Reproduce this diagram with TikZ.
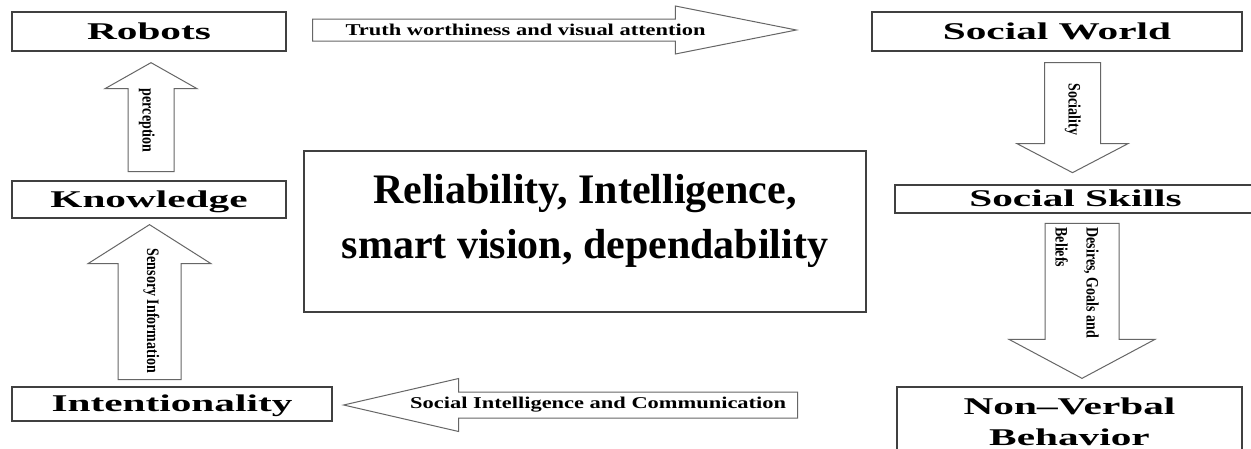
\documentclass[tikz,border=0pt]{standalone}
\usepackage{fontspec}
\setmainfont{Liberation Serif}
% wide bold face for the box titles, slightly less wide for the horizontal arrow captions
\newfontfamily\boxfont{Liberation Serif}[UprightFont={* Bold},FakeStretch=1.72]
\newfontfamily\arrowfont{Liberation Serif}[UprightFont={* Bold},FakeStretch=1.36]
% narrow face for the captions running down the vertical arrows
\newfontfamily\sidefont{Liberation Serif}[UprightFont={* Bold},FakeStretch=0.8]
\usetikzlibrary{calc}
\definecolor{boxline}{gray}{0.25}
\definecolor{arrowline}{gray}{0.40}

% block arrow from tail #1 to tip #2: shaft half width #3, head half width #4, head length #5
\newcommand\blockarrow[5]{%
  \path ($(#2)!#5!(#1)$) coordinate (#1-neck);
  \draw[blockarrowline]
    ($(#1)!#3!90:(#2)$) -- ($(#1-neck)!#3!90:(#2)$) -- ($(#1-neck)!#4!90:(#2)$)
    -- (#2)
    -- ($(#1-neck)!#4!-90:(#2)$) -- ($(#1-neck)!#3!-90:(#2)$) -- ($(#1)!#3!-90:(#2)$)
    -- cycle;
}

\begin{document}
\begin{tikzpicture}[x=1pt,y=-1pt,
  box/.style={draw=boxline,line width=1.3pt,inner sep=0pt,fill=white,
    font=\boxfont\fontsize{24pt}{28pt}\selectfont,text height=15.5pt,text depth=0pt},
  twolinebox/.style={draw=boxline,line width=1.3pt,inner sep=0pt,fill=white,align=center,
    font=\boxfont\fontsize{24pt}{31pt}\selectfont},
  blockarrowline/.style={draw=arrowline,line width=1pt,fill=white,line join=miter},
  hlabel/.style={font=\arrowfont\fontsize{16.5pt}{19pt}\selectfont,inner sep=0pt,
    text height=11pt,text depth=0pt},
  vlabel/.style={font=\sidefont\fontsize{17.5pt}{20pt}\selectfont,inner sep=0pt,rotate=-90},
]
\useasboundingbox (0,0) rectangle (1251,448);
\fill[white] (0,0) rectangle (1251,448);

% boxes
\node[box,minimum width=274pt,minimum height=39pt] (rob) at (149,31.5) {Robots};
\node[box,minimum width=370pt,minimum height=39pt] (sw) at (1057,31.5) {Social World};
\node[box,minimum width=361pt,minimum height=28pt] (ss) at (1075.5,199) {Social Skills\hspace{29pt}};
\node[twolinebox,minimum width=345pt,minimum height=69pt] (nv) at (1069.5,421.5) {Non–Verbal\\Behavior};
\node[box,minimum width=274pt,minimum height=37pt] (know) at (149,199.5) {Knowledge};
\node[box,minimum width=320pt,minimum height=34pt] (int) at (172,404) {Intentionality};

% central statement
\node[draw=boxline,line width=1.3pt,minimum width=562pt,minimum height=161pt,inner sep=0pt] (ctr) at (585,231.5) {};
\node[font=\bfseries\fontsize{42pt}{55pt}\selectfont,align=center,inner sep=0pt] (ctrtxt)
  at ($(ctr.center)+(0,-11)$) {Reliability, Intelligence,\\smart vision, dependability};

% arrow end points
\coordinate (a1) at ($(rob.east)+(26,-1.5)$);
\coordinate (b1) at ($(sw.west)+(-75,-1.5)$);
\coordinate (a2) at ($(sw.south)+(15.5,11)$);
\coordinate (b2) at ($(sw.south)+(15.5,121)$);
\coordinate (a3) at ($(nv.north)+(12.5,-163)$);
\coordinate (b3) at ($(nv.north)+(12.5,-8)$);
\coordinate (a4) at ($(know.south)+(0.5,161)$);
\coordinate (b4) at ($(know.south)+(0.5,6)$);
\coordinate (a5) at ($(rob.south)+(2,120)$);
\coordinate (b5) at ($(rob.south)+(2,11)$);
\coordinate (a6) at ($(int.east)+(465,1)$);
\coordinate (b6) at ($(int.east)+(11,1)$);

% block arrows
\blockarrow{a1}{b1}{11pt}{24pt}{121pt}
\blockarrow{a2}{b2}{28pt}{55.5pt}{29pt}
\blockarrow{a3}{b3}{37pt}{73pt}{39pt}
\blockarrow{a4}{b4}{31.5pt}{61.5pt}{39pt}
\blockarrow{a5}{b5}{23pt}{46pt}{26pt}
\blockarrow{a6}{b6}{13pt}{26.5pt}{115pt}

% arrow captions
\node[hlabel] (l1) at ($(a1)+(213,0)$) {Truth worthiness and visual attention};
\node[hlabel] (l6) at ($(a6)+(-199.5,-2)$) {Social Intelligence and Communication};
\node[vlabel,anchor=base west] (l2) at ($(a2)+(-4,21)$) {Sociality};
\node[vlabel,anchor=north west,align=left,font=\sidefont\fontsize{17.5pt}{31pt}\selectfont]
  (l3) at ($(a3)+(17,4)$) {Desires, Goals and\\Beliefs};
\node[vlabel,anchor=base west] (l4) at ($(b4)+(-2.5,24)$) {Sensory Information};
\node[vlabel,anchor=base west] (l5) at ($(b5)+(-8.5,26)$) {perception};
\end{tikzpicture}
\end{document}
